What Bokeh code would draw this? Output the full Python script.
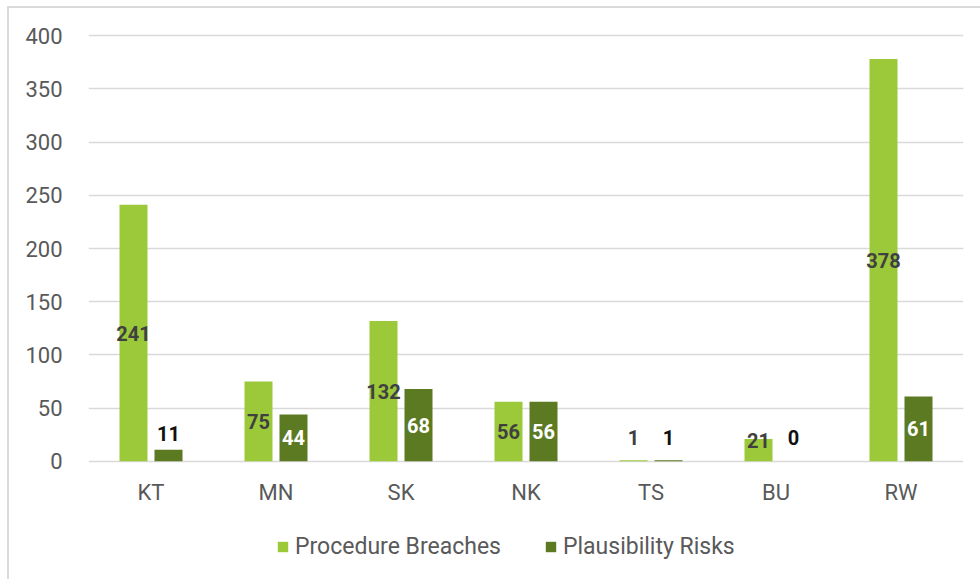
from bokeh.plotting import figure
from bokeh.layouts import column
from bokeh.models import (ColumnDataSource, FactorRange, Range1d, Legend, LegendItem,
                          SingleIntervalTicker)
from bokeh.transform import dodge
from bokeh.core.properties import value
from bokeh.embed import file_html
from bokeh.resources import INLINE

# Counts per region
regions = ["KT", "MN", "SK", "NK", "TS", "BU", "RW"]
procedure_breaches = [241, 75, 132, 56, 1, 21, 378]
plausibility_risks = [11, 44, 68, 56, 1, 0, 61]
series_names = ["Procedure Breaches", "Plausibility Risks"]
y_ticks_step = 50

LIGHT = "#9BC93A"
DARK = "#5B7A22"
GRID = "#d9d9d9"
TEXT = "#595959"
FONT = "Roboto"

BAR_W = 0.224
OFFSET = 0.14


def label_pos(v):
    """Data-label anchor: centred inside tall bars, sitting above short ones."""
    if v >= 30:
        return v / 2.0, "middle"
    if v >= 15:
        return 13.0, "bottom"
    return max(15.0, v + 8.0), "bottom"


def label_colors(vals, inside, outside):
    return [inside if v >= 30 else outside for v in vals]


pb_y, pb_base = zip(*[label_pos(v) for v in procedure_breaches])
pr_y, pr_base = zip(*[label_pos(v) for v in plausibility_risks])

src = ColumnDataSource(dict(
    region=regions,
    pb=procedure_breaches,
    pr=plausibility_risks,
    pb_text=[str(v) for v in procedure_breaches],
    pr_text=[str(v) for v in plausibility_risks],
    pb_y=list(pb_y), pr_y=list(pr_y),
    pb_base=list(pb_base), pr_base=list(pr_base),
    pb_col=["#404040" for _ in procedure_breaches],
    pr_col=label_colors(plausibility_risks, "#ffffff", "#111111"),
))

# ---- main bar chart -------------------------------------------------------
p = figure(
    x_range=FactorRange(*regions, range_padding=0),
    y_range=Range1d(-2, 402),
    width=980, height=525,
    output_backend="svg", toolbar_location=None,
    min_border_left=88, min_border_right=17,
    min_border_top=33, min_border_bottom=62,
)
p.outline_line_color = None
p.background_fill_color = "white"
p.border_fill_alpha = 0

r1 = p.vbar(x=dodge("region", -OFFSET, range=p.x_range), top="pb", width=BAR_W,
            source=src, fill_color=LIGHT, line_color=None)
r2 = p.vbar(x=dodge("region", OFFSET, range=p.x_range), top="pr", width=BAR_W,
            source=src, fill_color=DARK, line_color=None)

p.text(x=dodge("region", -OFFSET, range=p.x_range), y="pb_y", text="pb_text",
       source=src, text_align="center", text_baseline="pb_base",
       text_color="pb_col", text_font=value(FONT), text_font_style="bold",
       text_font_size="20px")
p.text(x=dodge("region", OFFSET, range=p.x_range), y="pr_y", text="pr_text",
       source=src, text_align="center", text_baseline="pr_base",
       text_color="pr_col", text_font=value(FONT), text_font_style="bold",
       text_font_size="20px")

p.xgrid.grid_line_color = None
p.ygrid.grid_line_color = GRID
p.ygrid.grid_line_width = 1.5
p.yaxis.ticker = SingleIntervalTicker(interval=y_ticks_step)
p.ygrid.ticker = SingleIntervalTicker(interval=y_ticks_step)

for ax in (p.xaxis[0], p.yaxis[0]):
    ax.axis_line_color = None
    ax.major_tick_line_color = None
    ax.minor_tick_line_color = None
    ax.major_label_text_font = FONT
    ax.major_label_text_color = TEXT
p.yaxis.major_label_text_font_size = "22px"
p.xaxis.major_label_text_font_size = "22px"
p.yaxis.major_label_standoff = 20
p.xaxis.major_label_standoff = 10

# ---- legend strip underneath (frame aligns with the chart's frame) ----------
lg = figure(
    width=980, height=54,
    x_range=Range1d(0, 1), y_range=Range1d(0, 1),
    output_backend="svg", toolbar_location=None,
    x_axis_location=None, y_axis_location=None,
    min_border=0,
)
lg.outline_line_color = None
lg.background_fill_alpha = 0
lg.border_fill_alpha = 0
lg.grid.grid_line_color = None
# swatch renderers: zero-height bars parked outside the visible range
swatch = ColumnDataSource(dict(x=[-5], top=[0]))
k1 = lg.vbar(x="x", top="top", width=0.1, source=swatch, fill_color=LIGHT, line_color=None)
k2 = lg.vbar(x="x", top="top", width=0.1, source=swatch, fill_color=DARK, line_color=None)

legend = Legend(
    items=[LegendItem(label=series_names[0], renderers=[k1]),
           LegendItem(label=series_names[1], renderers=[k2])],
    orientation="horizontal",
    location=(188, 19),
    label_text_font=FONT, label_text_font_size="23px", label_text_color=TEXT,
    glyph_width=13, glyph_height=13, label_standoff=6, spacing=38,
    label_width=211,
    padding=0, margin=0, border_line_color=None, background_fill_alpha=0,
)
lg.add_layout(legend, "center")

layout = column(p, lg, spacing=0)
# light grey chart frame along the left and top edges
layout.styles = {
    "background-color": "white",
    "background-image": f"linear-gradient({GRID}, {GRID}), linear-gradient({GRID}, {GRID})",
    "background-position": "7px 6px, 7px 6px",
    "background-size": "2px 100%, 100% 2px",
    "background-repeat": "no-repeat",
}

open("out.html", "w").write(file_html(layout, INLINE))
